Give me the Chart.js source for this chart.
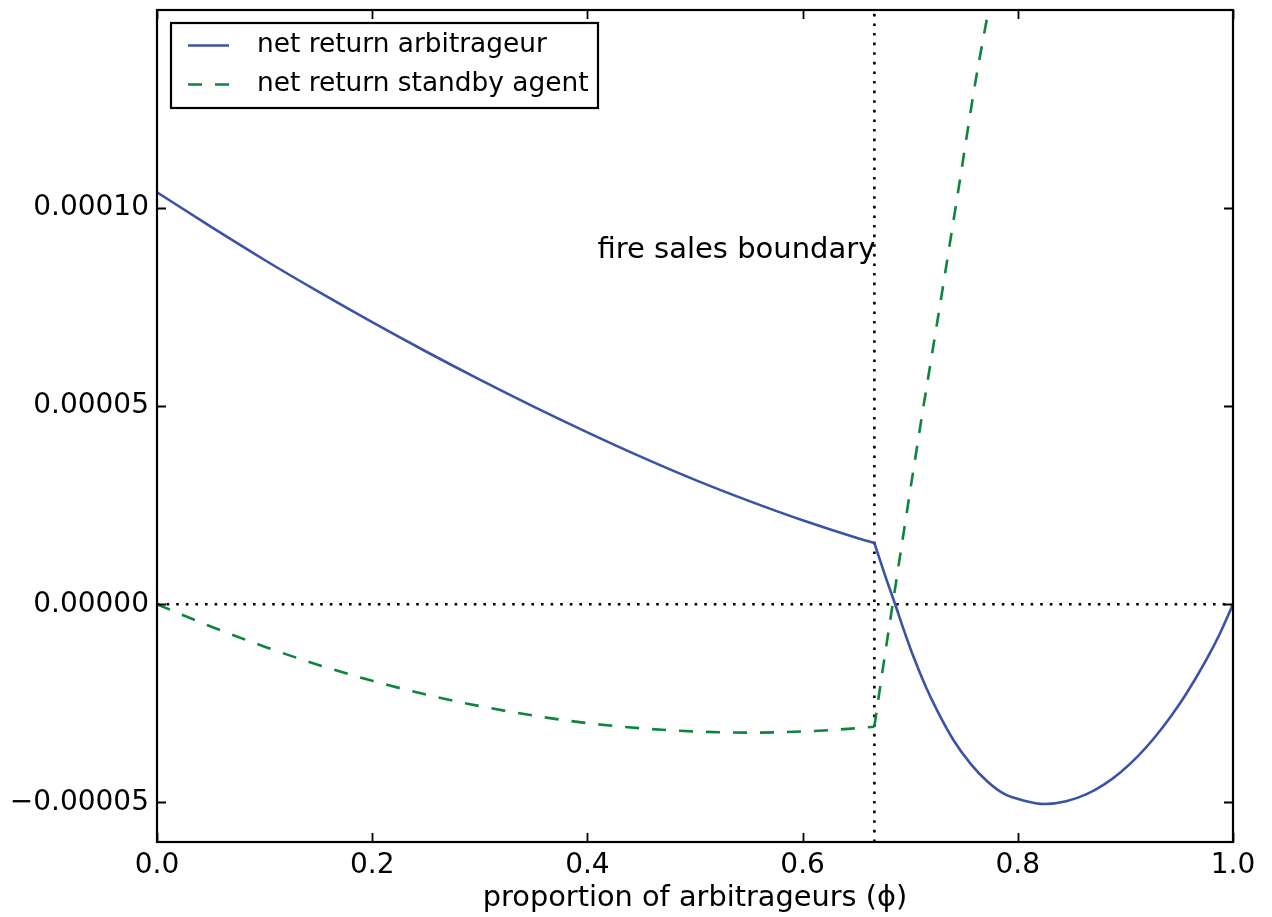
<!DOCTYPE html>
<html>
<head>
<meta charset="utf-8">
<script src="https://cdn.jsdelivr.net/npm/chart.js@4/dist/chart.umd.min.js"></script>
<style>
  html, body { margin: 0; padding: 0; background: #ffffff; }
  #wrap { width: 1272px; height: 917px; }
  canvas { display: block; }
</style>
</head>
<body>
<div id="wrap"><canvas id="chart" width="1272" height="917"></canvas></div>
<script>
// ---- data ----
const xTicks = [0.0, 0.2, 0.4, 0.6, 0.8, 1.0];
const yTicks = [-0.00005, 0.0, 0.00005, 0.0001];

const phiArb = [0.0, 0.05, 0.10, 0.15, 0.20, 0.25, 0.30, 0.35, 0.40, 0.45, 0.50, 0.55, 0.60, 0.65, 0.6667,
  0.676, 0.686, 0.695, 0.703, 0.714, 0.725, 0.740, 0.756, 0.772, 0.787, 0.805, 0.825, 0.845, 0.864,
  0.880, 0.895, 0.911, 0.926, 0.942, 0.957, 0.975, 0.988, 1.0];
const retArb = [1.040e-4, 0.953e-4, 0.869e-4, 0.789e-4, 0.712e-4, 0.638e-4, 0.567e-4, 0.499e-4, 0.434e-4,
  0.372e-4, 0.314e-4, 0.261e-4, 0.212e-4, 0.168e-4, 0.155e-4,
  0.078e-4, 0.0, -0.072e-4, -0.132e-4, -0.205e-4, -0.268e-4, -0.342e-4, -0.402e-4, -0.448e-4,
  -0.478e-4, -0.495e-4, -0.504e-4, -0.497e-4, -0.479e-4, -0.455e-4, -0.425e-4, -0.385e-4,
  -0.340e-4, -0.284e-4, -0.224e-4, -0.141e-4, -0.073e-4, 0.0];

const phiStandby = [0.0, 0.05, 0.10, 0.15, 0.20, 0.25, 0.30, 0.35, 0.40, 0.45, 0.50, 0.55, 0.60, 0.65, 0.6667,
  0.675, 0.6837, 0.695, 0.710, 0.7272, 0.745, 0.7609, 0.7727, 0.785];
const retStandby = [0.0, -0.056e-4, -0.107e-4, -0.153e-4, -0.193e-4, -0.228e-4, -0.257e-4, -0.281e-4,
  -0.300e-4, -0.313e-4, -0.321e-4, -0.324e-4, -0.321e-4, -0.313e-4, -0.309e-4,
  -0.155e-4, 0.0, 0.200e-4, 0.460e-4, 0.747e-4, 1.050e-4, 1.323e-4, 1.500e-4, 1.700e-4];

const boundaryPhi = 0.6667;
const xRange = [0.0, 1.0];
const yRange = [-0.00006, 0.00015];
const annotationText = 'fire sales boundary';
const annotationY = 0.0000893;

const seriesLabels = ['net return arbitrageur', 'net return standby agent'];
const xTitle = 'proportion of arbitrageurs (\u03D5)';

// ---- styles ----
const FONT = "'DejaVu Sans', 'Bitstream Vera Sans', sans-serif";
const BLUE = '#3a53a5';
const GREEN = '#0e853d';
const LW = 2.6;

const toPts = (xs, ys) => xs.map((x, i) => ({ x: x, y: ys[i] }));
// split a series at the kink (fire-sales boundary) so each smooth piece is drawn on its own
const leftOf = (xs, ys) => toPts(xs, ys).filter(p => p.x <= boundaryPhi);
const rightOf = (xs, ys) => toPts(xs, ys).filter(p => p.x >= boundaryPhi);

const frameAndTicks = {
  id: 'frameAndTicks',
  afterDraw(chart) {
    const { ctx, chartArea: a, scales } = chart;
    const xs = scales.x, ys = scales.y;
    const L = 9;
    ctx.save();
    ctx.strokeStyle = '#000';
    ctx.lineWidth = 1.8;
    ctx.beginPath();
    xTicks.forEach(v => {
      const px = Math.round(xs.getPixelForValue(v)) + 0.5;
      ctx.moveTo(px, a.bottom); ctx.lineTo(px, a.bottom - L);
      ctx.moveTo(px, a.top); ctx.lineTo(px, a.top + L);
    });
    yTicks.forEach(v => {
      const py = Math.round(ys.getPixelForValue(v)) + 0.5;
      ctx.moveTo(a.left, py); ctx.lineTo(a.left + L, py);
      ctx.moveTo(a.right, py); ctx.lineTo(a.right - L, py);
    });
    ctx.stroke();
    ctx.lineWidth = 2.2;
    ctx.strokeRect(a.left, a.top, a.right - a.left, a.bottom - a.top);

    // annotation
    ctx.fillStyle = '#000';
    ctx.font = '29px ' + FONT;
    ctx.textAlign = 'right';
    ctx.textBaseline = 'middle';
    ctx.fillText(annotationText, xs.getPixelForValue(boundaryPhi) + 1, ys.getPixelForValue(annotationY));

    // legend
    const lx = 171, ly = 23, lw = 427, lh = 85;
    ctx.fillStyle = '#fff';
    ctx.fillRect(lx, ly, lw, lh);
    ctx.lineWidth = 2.2;
    ctx.strokeStyle = '#000';
    ctx.strokeRect(lx, ly, lw, lh);
    const rows = [45, 84];
    const legendSets = chart.data.datasets.filter(ds => ds.inLegend);
    legendSets.forEach((ds, i) => {
      ctx.save();
      ctx.strokeStyle = ds.borderColor;
      ctx.lineWidth = ds.borderWidth;
      ctx.setLineDash(ds.borderDash || []);
      ctx.beginPath();
      ctx.moveTo(188, rows[i] + 0.5);
      ctx.lineTo(229, rows[i] + 0.5);
      ctx.stroke();
      ctx.restore();
      ctx.fillStyle = '#000';
      ctx.font = '26.4px ' + FONT;
      ctx.textAlign = 'left';
      ctx.textBaseline = 'middle';
      ctx.fillText(ds.label, 257, rows[i]);
    });
    ctx.restore();
  }
};

const lineStyle = (color, dash) => ({
  borderColor: color, backgroundColor: color, borderWidth: LW, borderDash: dash,
  borderCapStyle: 'butt', pointRadius: 0, cubicInterpolationMode: 'monotone', fill: false
});

new Chart(document.getElementById('chart'), {
  type: 'line',
  data: {
    datasets: [
      Object.assign({ label: seriesLabels[0], inLegend: true, data: leftOf(phiArb, retArb) }, lineStyle(BLUE, [])),
      Object.assign({ label: seriesLabels[0], data: rightOf(phiArb, retArb) }, lineStyle(BLUE, [])),
      Object.assign({ label: seriesLabels[1], inLegend: true, data: leftOf(phiStandby, retStandby) }, lineStyle(GREEN, [14, 13])),
      Object.assign({ label: seriesLabels[1], data: rightOf(phiStandby, retStandby) }, lineStyle(GREEN, [14, 13])),
      { label: 'zero', data: [{ x: xRange[0], y: 0 }, { x: xRange[1], y: 0 }], borderColor: '#000',
        borderWidth: 2.6, borderDash: [2.6, 7], pointRadius: 0, tension: 0, fill: false },
      { label: 'boundary', data: [{ x: boundaryPhi, y: yRange[0] }, { x: boundaryPhi, y: yRange[1] }], borderColor: '#000',
        borderWidth: 2.6, borderDash: [2.6, 7], pointRadius: 0, tension: 0, fill: false }
    ]
  },
  options: {
    responsive: false,
    devicePixelRatio: 1,
    animation: false,
    events: [],
    layout: { padding: { left: 0, right: 39, top: 10, bottom: 0 } },
    plugins: { legend: { display: false }, tooltip: { enabled: false } },
    scales: {
      x: {
        type: 'linear', min: xRange[0], max: xRange[1],
        afterBuildTicks: s => { s.ticks = xTicks.map(v => ({ value: v })); },
        afterFit: s => { s.height = 75; s.paddingLeft = 0; s.paddingRight = 0; },
        grid: { display: false, drawTicks: false },
        border: { display: false },
        ticks: { color: '#000', font: { family: FONT, size: 28 }, padding: 7, maxRotation: 0,
          callback: v => Number(v).toFixed(1) },
        title: { display: true, text: xTitle, color: '#000', font: { family: FONT, size: 28.8 },
          padding: { top: 0, bottom: 1 } }
      },
      y: {
        type: 'linear', min: yRange[0], max: yRange[1],
        afterBuildTicks: s => { s.ticks = yTicks.map(v => ({ value: v })); },
        afterFit: s => { s.width = 157; s.paddingTop = 0; s.paddingBottom = 0; },
        grid: { display: false, drawTicks: false },
        border: { display: false },
        ticks: { color: '#000', font: { family: FONT, size: 28 }, padding: 8,
          callback: v => (Math.abs(v) < 1e-12 ? '0.00000' : Number(v).toFixed(5).replace('-', '\u2212')) }
      }
    }
  },
  plugins: [frameAndTicks]
});
</script>
</body>
</html>
